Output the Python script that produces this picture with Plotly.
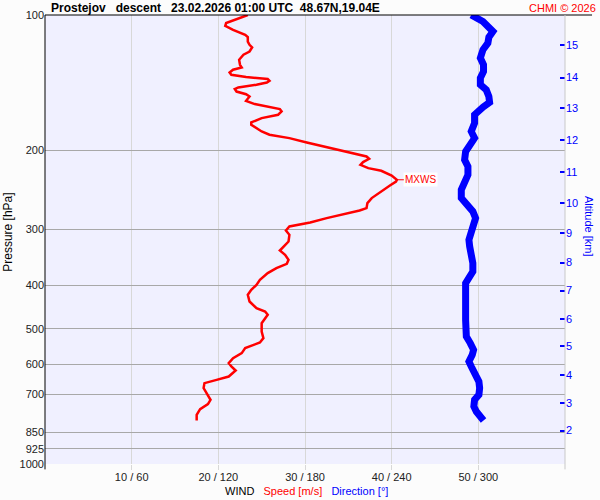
import math

import plotly.graph_objects as go

# wind speed profile (hPa, m/s)
speed_p = [
    100.0, 104.2, 105.7, 107.9, 110.7, 112.0, 114.6, 116.5, 118.1, 120.6,
    122.6, 125.8, 129.1, 130.9, 132.4, 134.3, 135.9, 137.5, 138.9, 140.1,
    141.4, 143.0, 145.0, 146.2, 148.1, 150.1, 151.9, 153.9, 155.3, 157.9,
    159.9, 162.0, 164.0, 166.8, 169.7, 173.5, 175.6, 181.7, 184.8, 188.0,
    192.3, 195.3, 197.9, 203.0, 206.6, 209.1, 212.6, 215.6, 219.3, 222.3,
    227.8, 232.8, 234.9, 239.8, 247.2, 255.7, 262.4, 269.2, 272.6, 277.6,
    283.4, 289.9, 291.7, 295.8, 302.0, 308.7, 319.5, 334.6, 342.0, 351.0,
    358.3, 366.3, 375.7, 388.9, 399.0, 409.3, 420.0, 434.6, 449.6, 457.5,
    465.3, 485.6, 506.9, 524.4, 536.3, 552.0, 566.3, 581.0, 596.1, 606.5,
    619.2, 638.6, 649.5, 660.6, 677.6, 701.3, 719.5, 735.6, 754.7, 776.9,
    800.0,
]
speed_ms = [
    23.4, 20.9, 20.8, 21.7, 23.1, 23.4, 23.4, 23.6, 23.9, 23.6,
    22.9, 22.4, 22.5, 22.7, 21.7, 21.3, 21.5, 23.2, 25.7, 25.9,
    25.6, 24.4, 22.3, 21.9, 22.1, 23.2, 23.6, 23.4, 23.2, 24.2,
    25.7, 27.1, 27.3, 26.9, 25.0, 23.8, 23.8, 25.0, 25.9, 28.2,
    30.2, 31.7, 32.9, 35.2, 37.1, 37.4, 36.7, 36.4, 37.3, 38.8,
    40.0, 40.6, 40.5, 39.8, 38.8, 37.7, 37.2, 37.1, 36.3, 34.4,
    32.5, 30.6, 29.8, 28.2, 27.8, 28.2, 28.1, 27.1, 27.7, 28.1,
    27.9, 26.7, 25.7, 24.8, 24.4, 23.8, 23.4, 23.6, 24.4, 25.4,
    25.7, 25.0, 25.0, 25.2, 24.8, 23.1, 22.7, 21.7, 21.2, 21.5,
    22.0, 21.2, 19.8, 18.4, 18.3, 18.8, 19.1, 18.8, 17.9, 17.5,
    17.5,
]

# wind direction profile (hPa, deg)
dir_p = [
    100.0, 101.6, 103.4, 108.8, 112.0, 115.5, 119.5, 124.7, 129.1, 133.6,
    138.2, 143.0, 146.8, 151.9, 156.6, 160.4, 166.8, 174.1, 181.7, 188.0,
    194.5, 201.4, 210.2, 217.5, 227.0, 236.8, 245.1, 255.7, 264.7, 273.9,
    283.4, 295.8, 306.0, 316.7, 327.8, 339.0, 357.0, 372.8, 385.5, 395.6,
    416.3, 434.6, 453.5, 477.5, 502.5, 520.0, 537.9, 556.8, 571.3, 591.3,
    606.5, 632.9, 655.2, 677.6, 701.3, 719.5, 744.6, 764.1, 783.8, 800.0,
]
dir_deg = [
    295.1, 298.6, 303.2, 310.1, 307.3, 306.6, 303.2, 301.4, 303.6, 303.6,
    301.4, 301.4, 305.5, 307.3, 307.8, 303.2, 297.4, 297.4, 295.1, 297.4,
    294.0, 291.2, 290.5, 292.8, 292.8, 290.5, 288.2, 288.2, 291.7, 296.2,
    298.1, 296.2, 294.0, 293.5, 294.0, 295.1, 296.2, 296.2, 294.0, 291.2,
    291.2, 291.7, 291.2, 291.2, 291.2, 291.7, 294.4, 296.7, 295.8, 293.5,
    295.1, 298.1, 300.4, 300.9, 300.4, 297.4, 296.9, 298.6, 302.0, 303.6,
]

p_ticks = [100, 200, 300, 400, 500, 600, 700, 850, 925, 1000]
x_ticks = [10, 20, 30, 40, 50]
x_labels = ["10 / 60", "20 / 120", "30 / 180", "40 / 240", "50 / 300"]
alt_km = [15, 14, 13, 12, 11, 10, 9, 8, 7, 6, 5, 4, 3, 2]
alt_p = [116.5, 137.8, 161.2, 189.9, 223.8, 262.0, 306.0, 355.9, 410.8,
         475.0, 547.3, 632.9, 730.5, 842.2]

FONT = "Arial, Liberation Sans, sans-serif"
PW, PH = 520, 449  # plot area in px, used for paper offsets
SP = "\u00a0"

i_max = max(range(len(speed_ms)), key=lambda i: speed_ms[i])
y_max = math.log10(speed_p[i_max])

fig = go.Figure()
fig.add_trace(
    go.Scatter(
        x=speed_ms, y=speed_p, mode="lines",
        line=dict(color="#ff0000", width=2.5),
        xaxis="x", yaxis="y", showlegend=False, hoverinfo="skip",
    )
)
fig.add_trace(
    go.Scatter(
        x=dir_deg, y=dir_p, mode="lines",
        line=dict(color="#0000ff", width=7),
        xaxis="x2", yaxis="y2", showlegend=False, hoverinfo="skip",
    )
)

fig.update_layout(
    width=600, height=500,
    margin=dict(l=45, r=35, t=15, b=36),
    paper_bgcolor="#fcfcfc",
    plot_bgcolor="#f0f0ff",
    font=dict(family=FONT, size=12, color="#222222"),
    xaxis=dict(
        range=[0, 60], tickvals=x_ticks, ticktext=x_labels,
        tickfont=dict(size=11),
        showgrid=True, gridcolor="#d8d8d8", gridwidth=1,
        ticks="outside", ticklen=5, tickcolor="#d8d8d8",
        ticklabelstandoff=-2,
        zeroline=False, showline=False, automargin=False,
    ),
    xaxis2=dict(range=[0, 360], overlaying="x", visible=False,
                automargin=False),
    yaxis=dict(
        type="log", range=[3, 2], tickvals=p_ticks,
        ticktext=[str(p) for p in p_ticks],
        tickfont=dict(size=11),
        showgrid=True, gridcolor="#a8a8a8", gridwidth=1,
        ticks="", zeroline=False, showline=False, automargin=False,
    ),
    yaxis2=dict(
        type="log", range=[3, 2], overlaying="y", side="right",
        tickvals=alt_p, ticktext=[str(a) for a in alt_km],
        ticks="inside", ticklen=5, tickwidth=2, tickcolor="#0000ff",
        tickfont=dict(color="#0000ff", size=11),
        showgrid=False, zeroline=False, showline=False, automargin=False,
    ),
)

line_black = dict(color="black", width=1)
fig.add_shape(type="line", xref="paper", yref="paper",
              x0=0, x1=1.052, y0=1, y1=1, line=line_black)
fig.add_shape(type="line", xref="paper", yref="paper",
              x0=0, x1=0, y0=-0.012, y1=1, line=line_black)
fig.add_shape(type="line", xref="paper", yref="paper",
              x0=1, x1=1, y0=-0.012, y1=1, line=dict(color="#c8c8c8", width=1))
# max wind level markers on both edges
for x0, x1 in [(-0.004, 0.021), (0.981, 1.006)]:
    fig.add_shape(type="line", xref="paper", yref="y",
                  x0=x0, x1=x1, y0=y_max, y1=y_max,
                  line=dict(color="#ff0000", width=1))

fig.add_annotation(
    x=speed_ms[i_max], y=y_max, xref="x", yref="y",
    text="MXWS", showarrow=True, arrowhead=0, arrowwidth=1,
    arrowcolor="#ff0000", ax=24, ay=0,
    bgcolor="rgba(255,255,255,0.9)",
    font=dict(color="#ff0000", size=10),
)
fig.add_annotation(
    x=4 / PW, y=1 + 7 / PH, xref="paper", yref="paper",
    xanchor="left", yanchor="middle",
    text="<b>Prostejov" + SP * 2 + " descent" + SP * 2
         + " 23.02.2026 01:00 UTC" + SP + " 48.67N,19.04E</b>",
    showarrow=False, font=dict(size=12, color="black"),
)
fig.add_annotation(
    x=1.0 + 33 / PW, y=1 + 7 / PH, xref="paper", yref="paper",
    xanchor="right", yanchor="middle",
    text="CHMI \u00a9 2026", showarrow=False,
    font=dict(size=11, color="#ff0000"),
)
fig.add_annotation(
    x=0.502, y=-27 / PH, xref="paper", yref="paper",
    xanchor="center", yanchor="middle",
    text="WIND" + SP * 2 + " <span style='color:#ff0000'>Speed [m/s]</span>"
         + SP * 2 + " <span style='color:#0000ff'>Direction [\u00b0]</span>",
    showarrow=False, font=dict(size=11, color="black"),
)
fig.add_annotation(
    x=-37 / PW, y=0.515, xref="paper", yref="paper",
    xanchor="center", yanchor="middle",
    text="Pressure [hPa]", textangle=-90, showarrow=False,
    font=dict(size=12, color="black"),
)
fig.add_annotation(
    x=1.0 + 24 / PW, y=0.53, xref="paper", yref="paper",
    xanchor="center", yanchor="middle",
    text="Altitude [km]", textangle=90, showarrow=False,
    font=dict(size=11, color="#0000ff"),
)

fig.write_html(
    "out.html",
    config={"displayModeBar": False},
    post_script="document.body.style.margin='0';",
)
